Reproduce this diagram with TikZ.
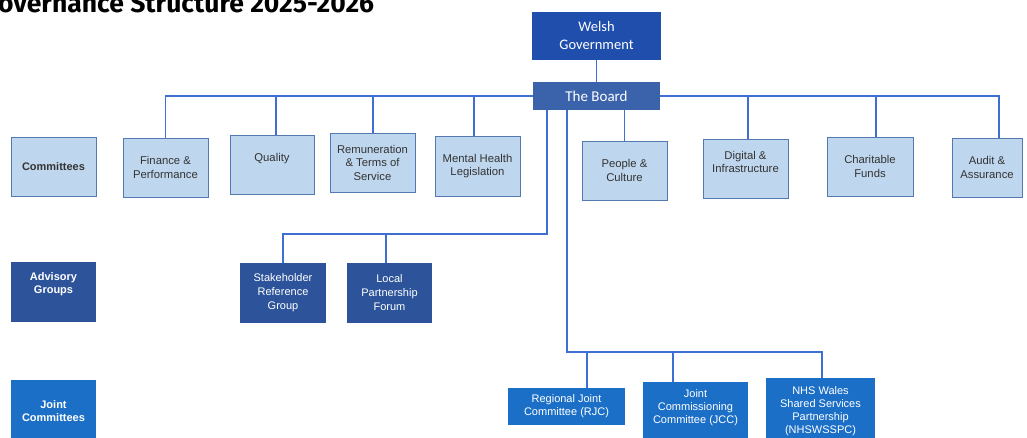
\documentclass[tikz,border=0pt]{standalone}
\usepackage{fontspec}
\setmainfont{Liberation Sans}
\newfontfamily\calfont{Carlito}
\newfontfamily\titlefont{Fira Sans}
\definecolor{cfill}{HTML}{BFD7EE}
\definecolor{cborder}{HTML}{5479B0}
\definecolor{ctext}{HTML}{333333}
\definecolor{lineblue}{HTML}{3F6FD3}
\definecolor{wgblue}{HTML}{1F4EAD}
\definecolor{boardblue}{HTML}{3A63AC}
\definecolor{advblue}{HTML}{2D549B}
\definecolor{jointblue}{HTML}{1C6FC7}
\tikzset{
  conn/.style={draw=lineblue, line width=1.8pt},
  cbox/.style={draw=cborder, fill=cfill, line width=0.9pt, inner sep=1pt, align=center,
    text=ctext, font=\fontsize{11.3}{13.5}\selectfont},
  clabel/.style={cbox, font=\bfseries\fontsize{11}{13}\selectfont},
  darkbox/.style={draw=none, inner sep=1pt, align=center, text=white},
  advbox/.style={darkbox, fill=advblue, font=\fontsize{11}{14}\selectfont},
  jbox/.style={darkbox, fill=jointblue, font=\fontsize{11}{13}\selectfont},
}
\begin{document}
\begin{tikzpicture}[x=1pt,y=-1pt]
\useasboundingbox (0,0) rectangle (1027,437);
\fill[white] (0,0) rectangle (1027,437);

\node[anchor=base west, inner sep=0, font=\titlefont\bfseries\fontsize{26.5}{26.5}\selectfont] (title) at (-2,12.5) {overnance Structure 2025-2026};

% top
\node[darkbox, fill=wgblue, minimum width=129pt, minimum height=48pt, font=\calfont\fontsize{14.5}{18}\selectfont] (wg) at (596.5,36) {Welsh\\Government};
\node[darkbox, fill=boardblue, minimum width=127pt, minimum height=28pt, font=\calfont\fontsize{15}{18}\selectfont] (board) at (596.5,96) {The Board};

% committees row
\node[clabel, minimum width=85pt, minimum height=59pt] (comm) at (53.5,166.5) {Committees};
\node[cbox, minimum width=85pt, minimum height=59pt] (fin) at (165.5,167.5) {Finance \&\\Performance};
\node[cbox, minimum width=84pt, minimum height=59pt] (qual) at (272,164.5) {Quality\\~};
\node[cbox, minimum width=85pt, minimum height=59pt] (rem) at (372.5,162.5) {Remuneration\\\& Terms of\\Service};
\node[cbox, minimum width=85pt, minimum height=60pt] (mhl) at (477.5,166) {Mental Health\\Legislation};
\node[cbox, minimum width=85pt, minimum height=59pt] (pc) at (624.5,170.5) {People \&\\Culture};
\node[cbox, minimum width=85pt, minimum height=59pt] (dig) at (745.5,168.5) {Digital \&\\Infrastructure\\~};
\node[cbox, minimum width=86pt, minimum height=59pt] (char) at (870,166.5) {Charitable\\Funds};
\node[cbox, minimum width=70pt, minimum height=59pt] (audit) at (987,167.5) {Audit \&\\Assurance};

% advisory row
\node[advbox, font=\bfseries\fontsize{11}{13}\selectfont, minimum width=85pt, minimum height=60pt] (adv) at (53.5,292) {Advisory\\Groups\\[4pt]~};
\node[advbox, minimum width=86pt, minimum height=60pt] (srg) at (283,293) {Stakeholder\\Reference\\Group};
\node[advbox, minimum width=85pt, minimum height=60pt] (lpf) at (389.5,293) {Local\\Partnership\\Forum};

% joint row
\node[jbox, font=\bfseries\fontsize{11}{13}\selectfont, minimum width=85pt, minimum height=62pt] (joint) at (53.5,411) {Joint\\Committees};
\node[jbox, minimum width=117pt, minimum height=37pt] (rjc) at (566.5,406.5) {Regional Joint\\Committee (RJC)};
\node[jbox, minimum width=105pt, minimum height=64pt] (jcc) at (695.5,414) {Joint\\Commissioning\\Committee (JCC)\\[2pt]~};
\node[jbox, minimum width=109pt, minimum height=66pt] (nhs) at (820.5,411) {NHS Wales\\Shared Services\\Partnership\\(NHSWSSPC)};

% connectors
\draw[conn] (wg.south) -- (board.north);
\draw[conn] (board.west) -| (fin.north);
\draw[conn] ([xshift=4pt]qual.north) -- ([xshift=4pt]qual.north |- board.west);
\draw[conn] ([xshift=0.5pt]rem.north) -- ([xshift=0.5pt]rem.north |- board.west);
\draw[conn] ([xshift=-3.5pt]mhl.north) -- ([xshift=-3.5pt]mhl.north |- board.west);
\draw[conn] (board.east) -| ([xshift=12pt]audit.north);
\draw[conn] ([xshift=2.5pt]dig.north) -- ([xshift=2.5pt]dig.north |- board.east);
\draw[conn] ([xshift=6pt]char.north) -- ([xshift=6pt]char.north |- board.east);
\draw[conn] (pc.north |- board.south) -- (pc.north);

\coordinate (advbus) at (547,234);
\draw[conn] (board.south -| advbus) -- (advbus) -| (srg.north);
\draw[conn] ([xshift=-3.5pt]lpf.north) -- ([xshift=-3.5pt]lpf.north |- advbus);

\coordinate (jbus) at (567,352);
\draw[conn] (board.south -| jbus) -- (jbus) -| ([xshift=1.5pt]nhs.north);
\draw[conn] ([xshift=20.5pt]rjc.north) -- ([xshift=20.5pt]rjc.north |- jbus);
\draw[conn] ([xshift=-22.5pt]jcc.north) -- ([xshift=-22.5pt]jcc.north |- jbus);
\end{tikzpicture}
\end{document}
